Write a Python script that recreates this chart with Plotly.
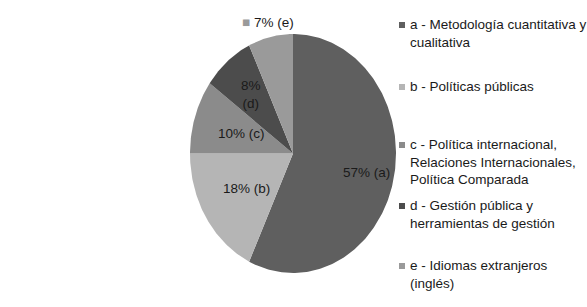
import numpy as np
import plotly.graph_objects as go

W, H = 587, 307

keys = ["a", "b", "c", "d", "e"]
values = [57, 18, 10, 8, 7]
legend_labels = [
    "a - Metodología cuantitativa y<br>cualitativa",
    "b - Políticas públicas",
    "c - Política internacional,<br>Relaciones Internacionales,<br>Política Comparada",
    "d - Gestión pública y<br>herramientas de gestión",
    "e - Idiomas extranjeros<br>(inglés)",
]
colors = ["#5f5f5f", "#b5b5b5", "#8b8b8b", "#4c4c4c", "#9a9a9a"]
label_radius = [0.73, 0.54, 0.53, 0.64, 1.12]
legend_row_px = [25, 87, 145, 206, 266]

TEXT = "#1a1a1a"
FONT = "Liberation Sans, Arial, sans-serif"
FS = 13.5

# pie geometry in pixels (ellipse, as in the reference)
CX, CY, RX, RY = 293, 153.5, 103, 119.5
YTOP = 1.25

fig = go.Figure()
annotations = []

total = float(sum(values))
start = 0.0
for k, v, c, r in zip(keys, values, colors, label_radius):
    frac = v / total
    a0 = start * 2 * np.pi
    a1 = (start + frac) * 2 * np.pi
    th = np.linspace(a0, a1, max(8, int(400 * frac)))
    xs = np.concatenate([[0], np.sin(th), [0]])
    ys = np.concatenate([[0], np.cos(th), [0]])
    fig.add_trace(go.Scatter(x=xs, y=ys, mode="lines", fill="toself",
                             fillcolor=c, line=dict(width=0, color=c),
                             hoverinfo="skip", showlegend=False))
    mid = (a0 + a1) / 2
    pct = round(v / total * 100)
    if k == "d":
        t = f"{pct}%<br>({k})"
    elif k == "e":
        t = f'<span style="color:{c}">■</span> {pct}% ({k})'
    else:
        t = f"{pct}% ({k})"
    annotations.append(dict(text=t, x=r * np.sin(mid), y=r * np.cos(mid),
                            xref="x", yref="y", showarrow=False,
                            xanchor="center", yanchor="middle",
                            font=dict(family=FONT, size=FS, color=TEXT)))
    start += frac

def px(x):
    return x / W

def py(y):
    return 1 - y / H

shapes = []
for lbl, c, yy in zip(legend_labels, colors, legend_row_px):
    shapes.append(dict(type="rect", xref="paper", yref="paper",
                       x0=px(399), x1=px(405), y0=py(yy - 3), y1=py(yy + 3),
                       fillcolor=c, line=dict(width=0)))
    annotations.append(dict(text=lbl, xref="paper", yref="paper",
                            x=px(408), y=py(yy - 10), xanchor="left", yanchor="top",
                            align="left", showarrow=False,
                            font=dict(family=FONT, size=FS, color=TEXT)))

fig.update_layout(
    width=W, height=H,
    margin=dict(l=0, r=0, t=0, b=0),
    paper_bgcolor="white", plot_bgcolor="white",
    xaxis=dict(domain=[px(CX - RX), px(CX + RX)], range=[-1, 1],
               visible=False, fixedrange=True),
    yaxis=dict(domain=[py(CY + RY), py(CY - YTOP * RY)], range=[-1, YTOP],
               visible=False, fixedrange=True),
    annotations=annotations, shapes=shapes,
    showlegend=False,
)

fig.write_html("out.html", config={"displayModeBar": False})
